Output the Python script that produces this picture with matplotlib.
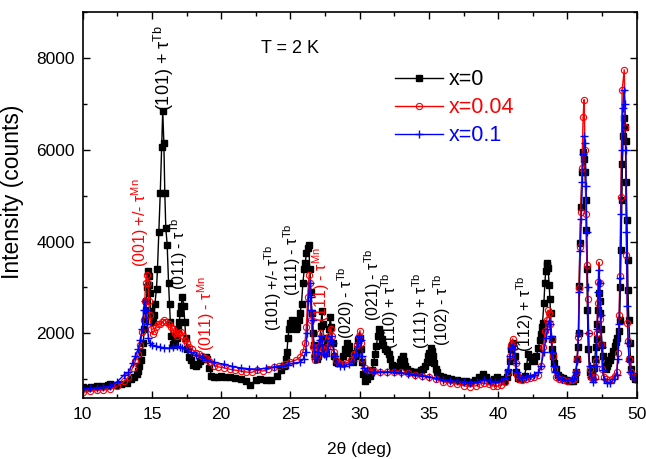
import matplotlib
matplotlib.use("Agg")
import matplotlib.pyplot as plt
from matplotlib.ticker import MultipleLocator

plt.rcParams['font.family'] = ['Liberation Sans', 'DejaVu Sans']
plt.rcParams['mathtext.fontset'] = 'custom'
plt.rcParams['mathtext.rm'] = 'Liberation Sans'
plt.rcParams['mathtext.it'] = 'Liberation Sans:italic'
plt.rcParams['mathtext.bf'] = 'Liberation Sans:bold'

# (2theta, counts), x = 0
SCAN_X0 = [
    (10.0, 830), (10.3, 820), (10.6, 840), (11.0, 850), (11.4, 850), (11.8, 880),
    (12.0, 890), (12.4, 880), (12.8, 900), (13.2, 930), (13.5, 1000), (13.7, 1050),
    (13.9, 1120), (14.0, 1180), (14.1, 1300), (14.2, 1420), (14.3, 1590), (14.37, 1800),
    (14.45, 2090), (14.5, 2300), (14.55, 2520), (14.6, 2700), (14.66, 3000), (14.72, 3350),
    (14.78, 3260), (14.82, 3060), (14.86, 2880), (14.9, 2480), (14.95, 2400), (15.05, 2250),
    (15.15, 2400), (15.21, 2630), (15.33, 2975), (15.4, 3410), (15.5, 4200), (15.6, 5050),
    (15.7, 6050), (15.78, 6850), (15.86, 6150), (15.93, 5050), (16.0, 4300), (16.1, 3930),
    (16.2, 3090), (16.27, 2630), (16.33, 2250), (16.4, 1940), (16.5, 1760), (16.6, 1750),
    (16.7, 1800), (16.8, 1910), (16.9, 2100), (16.97, 2240), (17.05, 2450), (17.1, 2590),
    (17.2, 2800), (17.3, 2600), (17.37, 2240), (17.45, 1900), (17.55, 1650), (17.65, 1480),
    (17.8, 1420), (18.0, 1320), (18.15, 1290), (18.3, 1330), (18.5, 1390), (18.7, 1440),
    (18.9, 1480), (19.0, 1450), (19.15, 1250), (19.3, 1080), (19.5, 1050), (19.8, 1060),
    (20.0, 1080), (20.3, 1050), (20.6, 1060), (21.0, 1030), (21.4, 1000), (21.8, 960),
    (22.1, 880), (22.5, 980), (22.8, 1000), (23.2, 980), (23.6, 990), (24.0, 1080),
    (24.3, 1200), (24.5, 1300), (24.65, 1450), (24.75, 1600), (24.82, 1900), (24.9, 2100),
    (25.0, 2230), (25.1, 2300), (25.2, 2280), (25.3, 2180), (25.4, 2090), (25.5, 2150),
    (25.6, 2300), (25.7, 2450), (25.8, 2650), (25.9, 3100), (26.0, 3400), (26.07, 3530),
    (26.15, 3750), (26.25, 3850), (26.32, 3920), (26.4, 3400), (26.48, 2900), (26.55, 2450),
    (26.62, 2000), (26.7, 1750), (26.8, 1550), (26.9, 1450), (27.0, 1500), (27.1, 1700),
    (27.2, 2160), (27.27, 2480), (27.33, 2200), (27.4, 1900), (27.5, 1650), (27.6, 1600),
    (27.7, 1800), (27.8, 2100), (27.87, 2350), (27.95, 2150), (28.05, 1800), (28.15, 1510),
    (28.3, 1370), (28.45, 1350), (28.6, 1380), (28.8, 1500), (28.95, 1650), (29.1, 1800),
    (29.2, 1720), (29.3, 1580), (29.45, 1420), (29.55, 1370), (29.7, 1500), (29.8, 1650),
    (29.9, 1850), (30.0, 1900), (30.08, 1650), (30.15, 1370), (30.25, 1120), (30.4, 970),
    (30.55, 1000), (30.75, 1075), (30.9, 1200), (31.0, 1370), (31.1, 1550), (31.2, 1725),
    (31.3, 1940), (31.43, 2090), (31.5, 2000), (31.6, 1870), (31.7, 1750), (31.84, 1650),
    (32.0, 1620), (32.1, 1550), (32.2, 1440), (32.3, 1320), (32.44, 1220), (32.6, 1200),
    (32.7, 1220), (32.8, 1300), (32.9, 1370), (33.0, 1450), (33.1, 1510), (33.2, 1400),
    (33.3, 1290), (33.45, 1220), (33.6, 1180), (33.8, 1170), (34.0, 1150), (34.12, 1150),
    (34.3, 1170), (34.45, 1200), (34.6, 1220), (34.75, 1300), (34.85, 1370), (34.95, 1500),
    (35.03, 1580), (35.13, 1690), (35.22, 1620), (35.32, 1510), (35.4, 1350), (35.5, 1220),
    (35.6, 1150), (35.8, 1075), (36.0, 1050), (36.3, 1020), (36.6, 1000), (37.0, 980),
    (37.3, 970), (37.7, 960), (38.0, 950), (38.3, 980), (38.6, 1050), (38.9, 1110),
    (39.1, 1060), (39.4, 970), (39.7, 1000), (39.9, 1040), (40.1, 1000), (40.4, 970),
    (40.6, 1050), (40.73, 1150), (40.82, 1400), (40.9, 1650), (41.0, 1750), (41.09, 1800),
    (41.2, 1510), (41.3, 1150), (41.45, 1020), (41.6, 1000), (41.75, 1030), (41.9, 1075),
    (42.05, 1300), (42.17, 1550), (42.3, 1480), (42.45, 1420), (42.6, 1400), (42.75, 1500),
    (42.9, 1690), (43.0, 1850), (43.06, 1980), (43.15, 2150), (43.2, 2230), (43.3, 2660),
    (43.37, 3100), (43.43, 3350), (43.49, 3530), (43.55, 3500), (43.6, 3420), (43.68, 3060),
    (43.73, 2750), (43.78, 2450), (43.85, 1870), (43.92, 1650), (43.97, 1510), (44.05, 1350),
    (44.16, 1220), (44.3, 1100), (44.45, 1040), (44.7, 1020), (45.0, 990), (45.2, 960),
    (45.4, 970), (45.53, 1000), (45.62, 1150), (45.7, 1440), (45.76, 1700), (45.8, 2015),
    (45.84, 3025), (45.9, 3965), (45.97, 4760), (46.06, 5520), (46.13, 5940), (46.2, 5800),
    (46.27, 5520), (46.33, 4900), (46.37, 4260), (46.4, 3400), (46.44, 2520), (46.5, 1650),
    (46.6, 1150), (46.7, 1080), (46.8, 1100), (46.9, 1250), (46.97, 1440), (47.05, 1700),
    (47.1, 1870), (47.15, 2200), (47.2, 2520), (47.26, 2880), (47.32, 2700), (47.37, 2450),
    (47.43, 2100), (47.5, 1750), (47.58, 1510), (47.68, 1300), (47.77, 1220), (47.85, 1280),
    (47.93, 1365), (48.05, 1430), (48.17, 1510), (48.3, 1620), (48.4, 1725), (48.5, 1820),
    (48.6, 1905), (48.7, 2050), (48.77, 2300), (48.82, 3000), (48.87, 3820), (48.93, 4900),
    (48.97, 5700), (49.02, 6300), (49.07, 6700), (49.15, 6500), (49.2, 6200), (49.25, 5300),
    (49.3, 4470), (49.34, 3600), (49.37, 2950), (49.43, 2300), (49.5, 1800), (49.55, 1450),
    (49.6, 1220), (49.7, 1080), (49.86, 1000), (50.0, 1050),
]

# x = 0.04
SCAN_X004 = [
    (10.0, 720), (10.5, 740), (11.0, 760), (11.5, 770), (12.0, 780), (12.5, 850),
    (13.0, 960), (13.3, 1045), (13.6, 1250), (13.8, 1400), (14.0, 1545), (14.15, 1750),
    (14.3, 2020), (14.4, 2300), (14.48, 2700), (14.55, 3100), (14.62, 3280), (14.7, 3100),
    (14.78, 2700), (14.85, 2400), (14.95, 2100), (15.05, 1980), (15.15, 2050), (15.3, 2150),
    (15.45, 2200), (15.6, 2200), (15.75, 2250), (15.9, 2300), (16.05, 2250), (16.2, 2200),
    (16.35, 2150), (16.5, 2100), (16.65, 2000), (16.8, 1950), (16.95, 2000), (17.1, 2020),
    (17.25, 1950), (17.4, 1850), (17.55, 1780), (17.7, 1700), (17.9, 1650), (18.2, 1580),
    (18.4, 1545), (18.6, 1500), (18.8, 1470), (19.0, 1440), (19.2, 1380), (19.5, 1300),
    (19.8, 1270), (20.2, 1250), (20.6, 1220), (21.0, 1200), (21.4, 1180), (21.8, 1160),
    (22.2, 1150), (22.6, 1200), (23.0, 1180), (23.4, 1220), (23.8, 1260), (24.2, 1300),
    (24.6, 1330), (25.0, 1380), (25.4, 1420), (25.7, 1480), (25.9, 1600), (26.05, 1800),
    (26.15, 2150), (26.25, 2800), (26.35, 3280), (26.42, 3100), (26.5, 2300), (26.6, 1700),
    (26.7, 1500), (26.8, 1420), (26.9, 1500), (27.0, 1700), (27.15, 2000), (27.25, 1900),
    (27.35, 1650), (27.5, 1550), (27.65, 1700), (27.8, 1950), (27.9, 2100), (28.0, 1950),
    (28.15, 1600), (28.3, 1420), (28.5, 1350), (28.8, 1340), (29.1, 1360), (29.4, 1420),
    (29.6, 1550), (29.8, 1750), (29.92, 1950), (30.02, 2060), (30.1, 1800), (30.2, 1450),
    (30.35, 1250), (30.6, 1200), (31.0, 1180), (31.5, 1170), (32.0, 1160), (32.5, 1170),
    (33.0, 1150), (33.5, 1130), (34.0, 1100), (34.5, 1080), (35.0, 1050), (35.5, 1000),
    (36.0, 950), (36.5, 920), (37.0, 900), (37.5, 860), (38.0, 840), (38.4, 860),
    (38.7, 900), (39.0, 920), (39.3, 890), (39.6, 860), (39.9, 850), (40.2, 870),
    (40.5, 950), (40.7, 1150), (40.85, 1500), (40.95, 1750), (41.05, 1880), (41.15, 1700),
    (41.25, 1350), (41.35, 1100), (41.5, 1000), (41.7, 980), (42.0, 1000), (42.3, 1030),
    (42.6, 1050), (42.9, 1100), (43.1, 1300), (43.25, 1700), (43.4, 2050), (43.5, 2300),
    (43.6, 2500), (43.68, 2450), (43.75, 2200), (43.85, 1870), (43.95, 1500), (44.05, 1220),
    (44.2, 1050), (44.4, 1000), (44.7, 980), (45.0, 970), (45.3, 980), (45.5, 1000),
    (45.6, 1150), (45.7, 1440), (45.78, 1930), (45.84, 2990), (45.9, 3890), (45.97, 4650),
    (46.05, 5600), (46.13, 6710), (46.2, 7090), (46.27, 6000), (46.33, 4600), (46.4, 3500),
    (46.48, 2740), (46.53, 2000), (46.6, 1220), (46.7, 1050), (46.85, 1000), (47.0, 1050),
    (47.08, 1400), (47.13, 2000), (47.18, 2660), (47.22, 3130), (47.27, 3545), (47.32, 3100),
    (47.38, 2320), (47.45, 1760), (47.52, 1220), (47.62, 1050), (47.8, 1000), (48.0, 990),
    (48.2, 1010), (48.4, 1080), (48.55, 1150), (48.65, 1580), (48.73, 2400), (48.78, 3240),
    (48.85, 4975), (48.95, 7300), (49.1, 7740), (49.18, 6500), (49.26, 3710), (49.33, 2230),
    (49.38, 1840), (49.45, 1440), (49.6, 1150), (49.8, 1050), (50.0, 1050),
]

# x = 0.1
SCAN_X01 = [
    (10.0, 790), (10.5, 800), (11.0, 820), (11.5, 830), (12.0, 850), (12.5, 950),
    (13.0, 1100), (13.3, 1150), (13.6, 1350), (13.8, 1500), (14.0, 1650), (14.15, 1850),
    (14.3, 2090), (14.4, 2500), (14.47, 2700), (14.55, 2500), (14.65, 2200), (14.75, 1900),
    (14.85, 1780), (15.0, 1750), (15.3, 1720), (15.6, 1700), (15.9, 1690), (16.2, 1680),
    (16.5, 1700), (16.8, 1720), (17.0, 1700), (17.2, 1680), (17.5, 1650), (17.8, 1590),
    (18.2, 1540), (18.6, 1480), (19.0, 1420), (19.5, 1370), (20.2, 1330), (20.8, 1280),
    (21.4, 1250), (22.0, 1230), (22.6, 1220), (23.2, 1240), (23.8, 1270), (24.3, 1290),
    (24.8, 1320), (25.2, 1350), (25.7, 1370), (25.95, 1450), (26.1, 1600), (26.2, 2000),
    (26.3, 2700), (26.38, 3100), (26.45, 2800), (26.52, 2500), (26.6, 2300), (26.7, 1700),
    (26.8, 1450), (26.9, 1450), (27.0, 1600), (27.1, 1850), (27.2, 1950), (27.3, 1750),
    (27.4, 1550), (27.55, 1500), (27.7, 1650), (27.85, 1850), (27.95, 1950), (28.05, 1800),
    (28.2, 1500), (28.35, 1350), (28.6, 1300), (28.9, 1300), (29.2, 1330), (29.5, 1400),
    (29.7, 1550), (29.85, 1800), (29.97, 1950), (30.07, 1850), (30.17, 1500), (30.3, 1250),
    (30.5, 1180), (31.0, 1150), (31.5, 1150), (32.0, 1160), (32.5, 1150), (33.0, 1140),
    (33.5, 1120), (34.0, 1100), (34.5, 1080), (35.0, 1060), (35.5, 1020), (36.0, 990),
    (36.5, 970), (37.0, 960), (37.5, 950), (38.0, 930), (38.5, 950), (39.0, 980),
    (39.4, 960), (39.8, 950), (40.2, 960), (40.5, 1020), (40.7, 1200), (40.85, 1500),
    (40.95, 1680), (41.05, 1750), (41.15, 1650), (41.25, 1350), (41.35, 1150), (41.5, 1050),
    (41.7, 1020), (42.0, 1050), (42.3, 1080), (42.6, 1100), (42.9, 1150), (43.1, 1300),
    (43.3, 1600), (43.45, 1900), (43.55, 2100), (43.65, 2270), (43.72, 2200), (43.8, 1950),
    (43.9, 1600), (44.0, 1300), (44.1, 1150), (44.3, 1050), (44.6, 1000), (45.0, 990),
    (45.3, 1000), (45.5, 1020), (45.6, 1150), (45.7, 1400), (45.8, 2000), (45.86, 2900),
    (45.93, 3800), (46.0, 4500), (46.08, 5300), (46.15, 5900), (46.22, 6300), (46.28, 6150),
    (46.35, 5200), (46.4, 4200), (46.46, 3000), (46.52, 2000), (46.6, 1300), (46.7, 1050),
    (46.85, 950), (47.0, 1000), (47.08, 1300), (47.15, 2100), (47.22, 2900), (47.28, 3390),
    (47.33, 3100), (47.4, 2400), (47.47, 1700), (47.55, 1200), (47.65, 1000), (47.85, 920),
    (48.1, 930), (48.35, 1000), (48.55, 1100), (48.65, 1450), (48.73, 2200), (48.8, 3200),
    (48.86, 4600), (48.93, 6000), (49.0, 6900), (49.08, 7290), (49.15, 7000), (49.2, 6000),
    (49.26, 4200), (49.32, 2600), (49.38, 1800), (49.45, 1400), (49.55, 1150), (49.7, 1050),
    (49.85, 1000), (50.0, 1000),
]

SERIES_LABELS = ['x=0', 'x=0.04', 'x=0.1']

# peak indexing: (hkl part, propagation vector, colour key, 2theta, counts at text foot)
PEAK_LABELS = [
    ('(101) + ', 'Tb', 'k', 15.87, 6850),
    ('(001) +/- ', 'Mn', 'r', 14.12, 3450),
    ('(011) - ', 'Tb', 'k', 16.94, 2950),
    ('(011) - ', 'Mn', 'r', 18.94, 1620),
    ('(101) +/- ', 'Tb', 'k', 23.73, 2050),
    ('(111) - ', 'Tb', 'k', 25.11, 2810),
    ('(111) - ', 'Mn', 'r', 27.21, 2240),
    ('(020) - ', 'Tb', 'k', 29.01, 1870),
    ('(021) - ', 'Tb', 'k', 30.94, 2270),
    ('(110) + ', 'Tb', 'k', 32.2, 1650),
    ('(111) + ', 'Tb', 'k', 34.42, 1650),
    ('(102) - ', 'Tb', 'k', 35.98, 1725),
    ('(112) + ', 'Tb', 'k', 41.93, 1590),
]

COLORS = {'k': 'black', 'r': '#ff0000', 'b': '#0000ff'}


def main():
    fig = plt.figure(figsize=(6.46, 4.59), dpi=100)
    ax = fig.add_axes([0.128, 0.1336, 0.8576, 0.8403])

    styles = [
        dict(color=COLORS['k'], marker='s', ms=4, mfc=COLORS['k'], mec=COLORS['k']),
        dict(color=COLORS['r'], marker='o', ms=4.5, mfc='none', mec=COLORS['r'], mew=0.8),
        dict(color=COLORS['b'], marker='+', ms=6, mec=COLORS['b'], mew=1.0),
    ]
    for scan, label, st in zip([SCAN_X0, SCAN_X004, SCAN_X01], SERIES_LABELS, styles):
        xs, ys = zip(*scan)
        ax.plot(xs, ys, lw=1.0, label=label, **st)

    for hkl, sup, c, x, y in PEAK_LABELS:
        txt = hkl + r'$\mathrm{\tau}^{\mathrm{' + sup + '}}$'
        size = 13 if y > 6000 else 11.5
        ax.text(x, y, txt, rotation=90, ha='center', va='bottom',
                color=COLORS[c], fontsize=size)

    ax.text(25.0, 8200, 'T = 2 K', ha='center', va='center', fontsize=13)

    ax.set_xlim(10, 50)
    ax.set_ylim(600, 9000)
    ax.xaxis.set_major_locator(MultipleLocator(5))
    ax.xaxis.set_minor_locator(MultipleLocator(2.5))
    ax.set_yticks([2000, 4000, 6000, 8000])
    ax.yaxis.set_minor_locator(MultipleLocator(1000))
    ax.tick_params(which='both', direction='in', top=True, right=True,
                   labelsize=12.5, width=1.0)
    ax.tick_params(which='major', length=5)
    ax.tick_params(axis='x', which='major', pad=7)
    ax.tick_params(axis='y', which='major', pad=5.5)
    ax.tick_params(which='minor', length=3)
    for sp in ax.spines.values():
        sp.set_linewidth(1.2)

    ax.set_xlabel('2θ (deg)', fontsize=12.5, labelpad=14)
    ax.set_ylabel('Intensity (counts)', fontsize=16.5)
    ax.yaxis.set_label_coords(-0.106, 0.533)

    ax.legend(loc='upper left', bbox_to_anchor=(0.564, 0.852), frameon=False,
              fontsize=15.5, labelcolor='linecolor', handlelength=2.2,
              handletextpad=0.3, labelspacing=0.33, borderpad=0, borderaxespad=0,
              numpoints=1)

    fig.savefig('out.png', dpi=100)


if __name__ == '__main__':
    main()
